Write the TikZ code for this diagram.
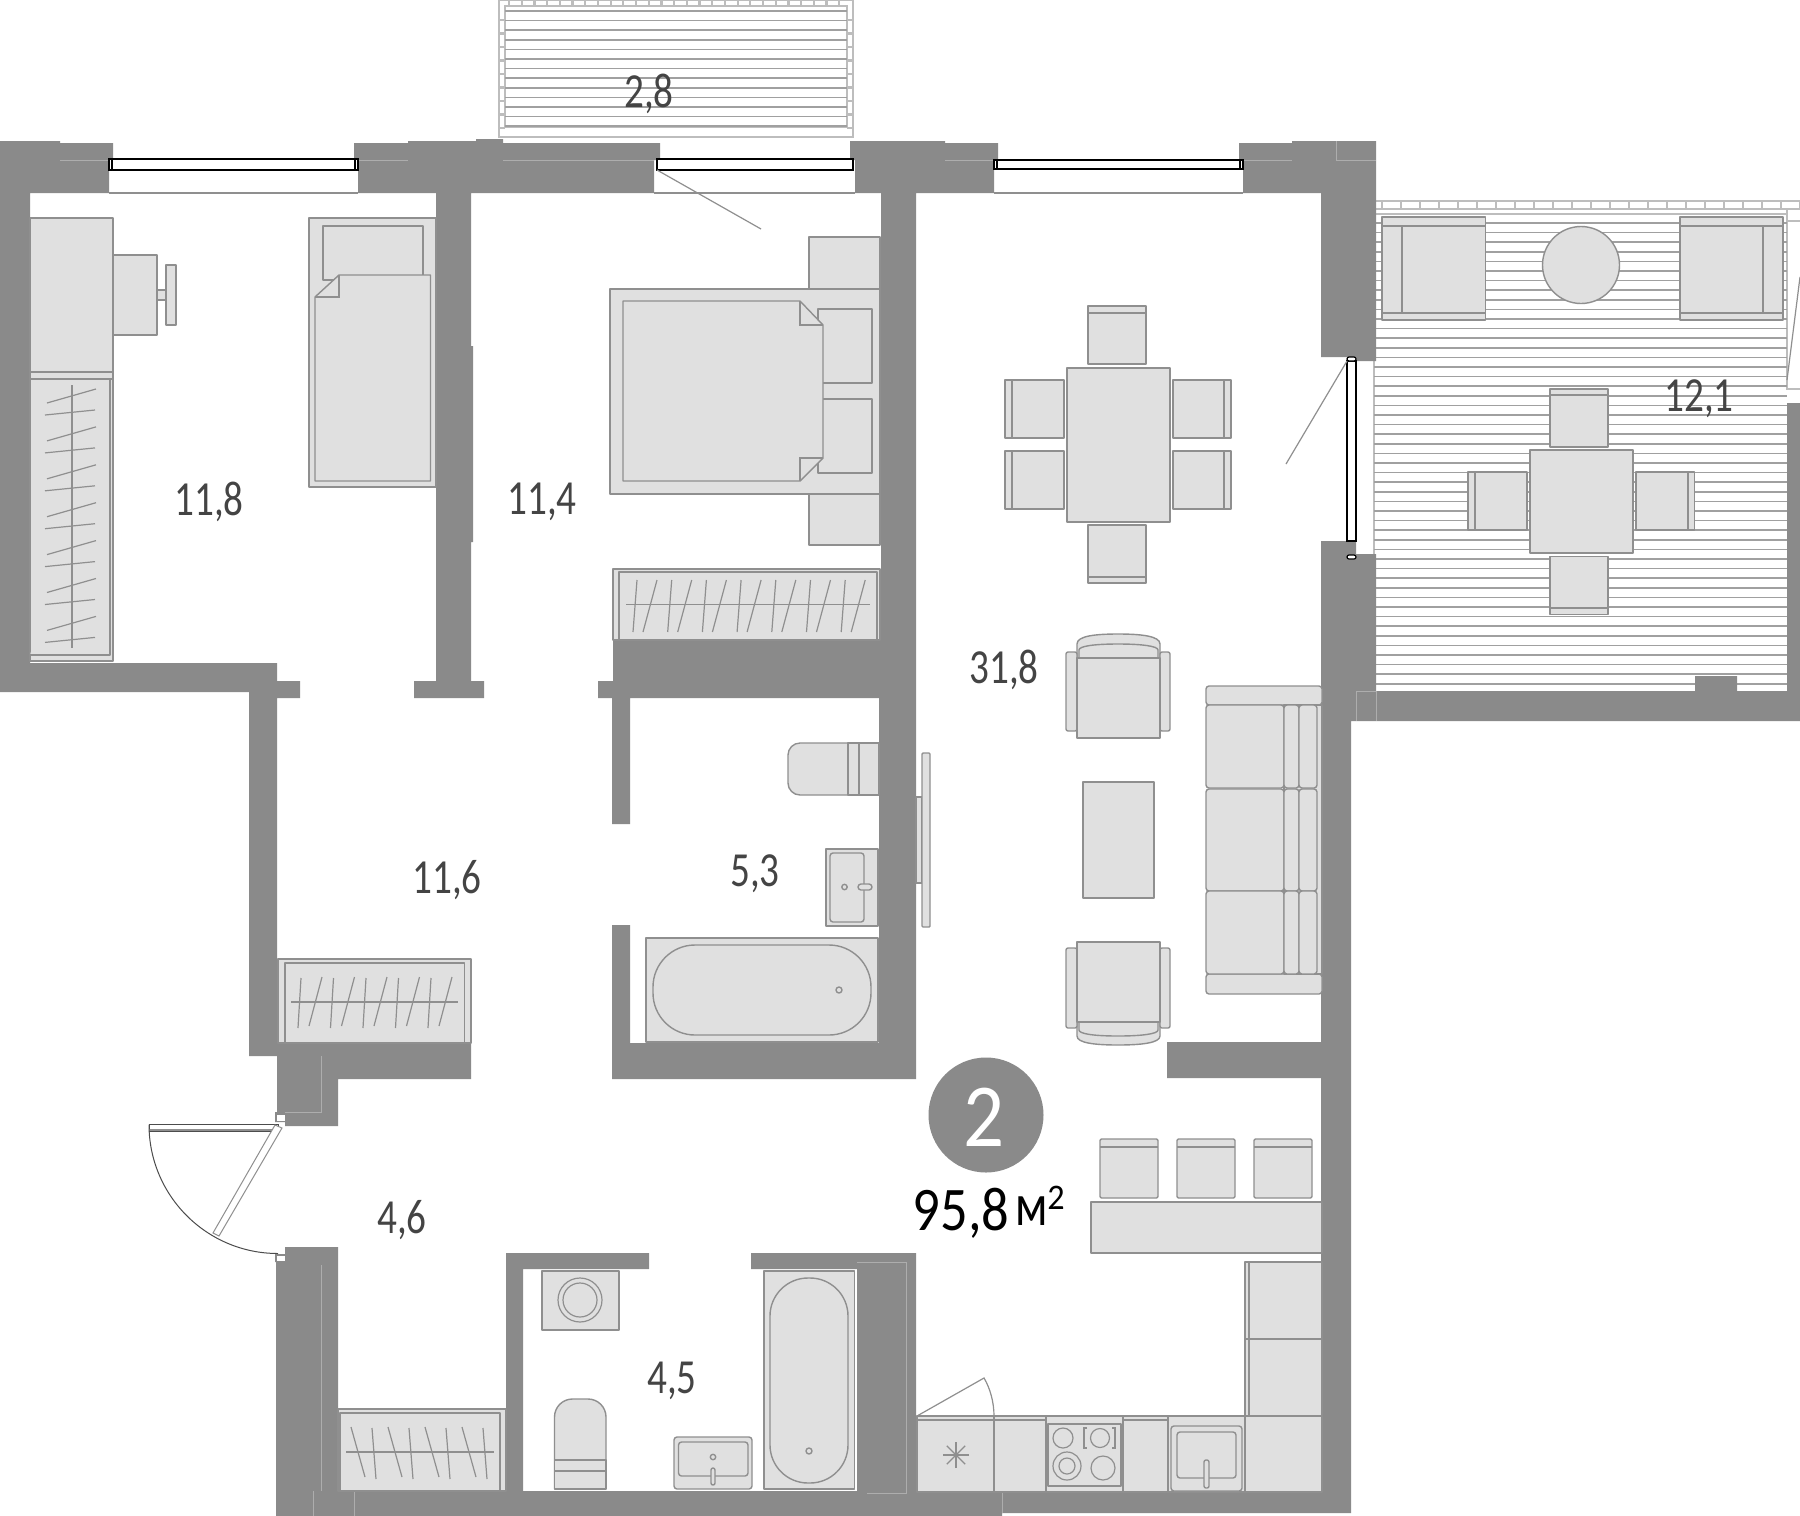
\documentclass[tikz,border=0pt]{standalone}
\usepackage{fontspec}
\setmainfont{Carlito}
\usepackage{xcolor}
\definecolor{wallgray}{HTML}{8A8A8A}
\definecolor{furngray}{HTML}{E0E0E0}
\definecolor{linegray}{HTML}{8F8F8F}
\definecolor{railgray}{HTML}{BDBDBD}
\definecolor{areagray}{HTML}{444444}
\tikzset{
  wall/.style={fill=wallgray},
  wallseam/.style={draw=white!30!wallgray,line width=.35pt},
  furn/.style={draw=linegray,fill=furngray,line width=.7pt,line join=round},
  thinline/.style={draw=linegray,line width=.6pt},
  plankdark/.style={draw=linegray!85!white,line width=.75pt},
  rail/.style={draw=railgray,line width=.6pt},
  railtick/.style={draw=railgray,line width=1.1pt},
  pane/.style={draw=black,fill=white,line width=.6pt},
  area/.style={text=areagray,font=\fontsize{24.5}{24.5}\selectfont,inner sep=0pt}
}
\newcommand{\areatxt}[1]{\scalebox{.8}[1]{#1}}
\begin{document}
\begin{tikzpicture}[x=.5pt,y=-.5pt]
      \useasboundingbox (0,0) rectangle (1800,1516);
      \fill[white] (0,0) rectangle (1800,1516);

      \draw[rail] (499,0) rectangle (853,137);
      \draw[rail] (505,6) rectangle (847,127);
      \foreach \xx in {509,521.7,...,847}
        \draw[railtick] (\xx,0) -- (\xx,6);
      \foreach \yy in {20,33.5,...,137} {
        \draw[railtick] (499,\yy) -- (505,\yy);
        \draw[railtick] (847,\yy) -- (853,\yy);
      }
      \foreach \yy in {11,20.6,...,128}
        \draw[plankdark] (505,\yy) -- (847,\yy);

      \draw[rail] (1376,201) -- (1800,201);
      \draw[rail] (1376,209) -- (1800,209);
      \foreach \xx in {1382,1401,...,1800}
        \draw[railtick] (\xx,201) -- (\xx,209);
      \draw[rail] (1374,214) -- (1787,214);
      \draw[rail] (1374,214) -- (1374,580);
      \draw[rail] (1787,209) -- (1787,389) -- (1800,389);
      \draw[rail] (1787,221) -- (1800,221);
      \draw[thinline] (1800,277) -- (1787,380);
      \foreach \yy in {223,232.6,...,688}
        \draw[plankdark] (1374,\yy) -- (1787,\yy);

      \fill[wall] (0,141) -- (60,141) -- (60,143) -- (113,143) -- (113,160)
        -- (109,160) -- (109,193) -- (30,193) -- (30,663) -- (277,663)
        -- (277,681) -- (300,681) -- (300,698) -- (277,698) -- (277,1040)
        -- (317,1040) -- (317,1043) -- (471,1043) -- (471,1079) -- (338,1079)
        -- (338,1126) -- (285,1126) -- (285,1122) -- (275,1122) -- (275,1112)
        -- (277,1112) -- (277,1056) -- (249,1056) -- (249,692) -- (0,692)
        -- cycle;
      \fill[wall] (354,143) -- (408,143) -- (408,141) -- (476,141) -- (476,139)
        -- (503,139) -- (503,143) -- (660,143) -- (660,160) -- (654,160)
        -- (654,193) -- (471,193) -- (471,346) -- (473,346) -- (473,542)
        -- (471,542) -- (471,681) -- (484,681) -- (484,698) -- (414,698)
        -- (414,681) -- (436,681) -- (436,193) -- (358,193) -- (358,160)
        -- (354,160) -- cycle;
      \fill[wall] (850,141) -- (945,141) -- (945,143) -- (998,143) -- (998,160)
        -- (994,160) -- (994,193) -- (916,193) -- (916,1079) -- (612,1079)
        -- (612,925) -- (630,925) -- (630,1043) -- (879,1043) -- (879,698)
        -- (630,698) -- (630,824) -- (612,824) -- (612,698) -- (598,698)
        -- (598,681) -- (613,681) -- (613,640) -- (881,640) -- (881,193)
        -- (855,193) -- (855,160) -- (850,160) -- cycle;
      \fill[wall] (1239,143) -- (1292,143) -- (1292,141) -- (1376,141)
        -- (1376,361) -- (1356,361) -- (1356,357) -- (1321,357) -- (1321,193)
        -- (1243,193) -- (1243,160) -- (1239,160) -- cycle;
      \fill[wall] (1321,541) -- (1356,541) -- (1356,554) -- (1376,554)
        -- (1376,691) -- (1695,691) -- (1695,676) -- (1737,676) -- (1737,691)
        -- (1787,691) -- (1787,403) -- (1800,403) -- (1800,721) -- (1351,721)
        -- (1351,1513) -- (1002,1513) -- (1002,1516) -- (276,1516)
        -- (276,1262) -- (275,1262) -- (275,1254) -- (285,1254) -- (285,1247)
        -- (338,1247) -- (338,1491)
        -- (506,1491) -- (506,1253) -- (649,1253) -- (649,1269) -- (523,1269)
        -- (523,1491) -- (857,1491) -- (857,1269) -- (751,1269) -- (751,1253)
        -- (916,1253) -- (916,1491) -- (1321,1491) -- (1321,1078) -- (1167,1078)
        -- (1167,1042) -- (1321,1042) -- cycle;

      \draw[wallseam] (60,160) -- (109,160);
      \draw[wallseam] (358,160) -- (408,160);
      \draw[wallseam] (503,160) -- (654,160);
      \draw[wallseam] (945,160) -- (994,160);
      \draw[wallseam] (1243,160) -- (1292,160);
      \draw[wallseam] (1336,141) -- (1336,160) -- (1376,160);
      \draw[wallseam] (1356,691) -- (1356,721);
      \draw[wallseam] (1356,691) -- (1376,691) -- (1376,721);
      \draw[wallseam] (321,1056) -- (321,1112) -- (285,1112);
      \draw[wallseam] (321,1265) -- (321,1491);
      \draw[wallseam] (313,1491) -- (313,1516);
      \draw[wallseam] (354,1491) -- (354,1516);
      \draw[wallseam] (857,1262) -- (906,1262) -- (906,1493) -- (867,1493);
      \draw[wallseam] (1002,1493) -- (1002,1513);

      \draw[thinline] (109,193) -- (358,193);
      \draw[thinline] (654,193) -- (855,193);
      \draw[thinline] (994,193) -- (1243,193);
      \draw[pane] (109,159) rectangle (358,170);
      \draw[pane] (112,159) -- (112,170);
      \draw[pane] (355,159) -- (355,170);
      \draw[pane] (657,159) rectangle (853,170);
      \draw[pane] (994,160) rectangle (1243,169);
      \draw[pane] (997,160) -- (997,169);
      \draw[pane] (1240,160) -- (1240,169);
      \draw[pane] (1347,361) rectangle (1356,541);
      \draw[pane,rounded corners=1pt] (1347,357) rectangle (1356,361);
      \draw[pane,rounded corners=1pt] (1347,555) rectangle (1356,559);
      \draw[thinline] (657,170) -- (761,229);
      \draw[thinline] (1347,361) -- (1286,464);

      \draw[furn] (30,218) rectangle (113,372);
      \draw[furn] (30,372) rectangle (113,379);
      \draw[furn] (113,255) rectangle (157,335);
      \draw[furn] (157,290) rectangle (166,300);
      \draw[furn] (166,265) rectangle (176,325);
      \draw[furn] (30,379) rectangle (113,661);
      \draw[furn] (30,655) -- (110,655) -- (110,379);
      \draw[thinline] (72,385) -- (72,648);
      \foreach \yy in {0,37.9,...,230} {
        \draw[thinline] (47,403+\yy) -- (96,389+\yy);
        \draw[thinline] (45,415+\yy) -- (95,410+\yy);
      }

      \draw[furn] (309,218) rectangle (436,487);
      \draw[furn] (323,226) rectangle (423,280);
      \draw[furn] (339,275) -- (430.5,275) -- (430.5,481) -- (315,481)
        -- (315,297) -- cycle;
      \draw[thinline] (315,297) -- (339,297) -- (339,275);

      \draw[furn] (809,237) rectangle (880,289);
      \draw[furn] (809,494) rectangle (880,545);
      \draw[furn] (610,289) rectangle (880,494);
      \draw[furn] (818,309) rectangle (872,383);
      \draw[furn] (818,399) rectangle (872,473);
      \draw[furn] (623,301) -- (800,301) -- (823,325) -- (823,458) -- (800,481)
        -- (623,481) -- cycle;
      \draw[thinline] (800,301) -- (800,325) -- (823,325);
      \draw[thinline] (823,458) -- (800,458) -- (800,481);

      \draw[furn] (613,569) rectangle (880,640);
      \draw[furn] (619,572) rectangle (877,640);
      \draw[thinline] (626,604.5) -- (870,604.5);
      \foreach \xx in {0,34.7,...,210} {
        \draw[thinline] (633+\xx,632) -- (637+\xx,580);
        \draw[thinline] (643+\xx,632) -- (657+\xx,580);
      }

      \draw[furn] (278,959) rectangle (471,1043);
      \draw[furn] (285,963) rectangle (464.6,1043);
      \draw[thinline] (291,1002) -- (458,1002);
      \foreach \xx in {0,32.5,...,131} {
        \draw[thinline] (298+\xx,1028) -- (301+\xx,978);
        \draw[thinline] (309+\xx,1026) -- (322+\xx,977);
      }

      \draw[furn,rounded corners=6pt] (800,743) -- (879,743) -- (879,795)
        -- (788,795) -- (788,743) -- (830,743);
      \fill[furngray] (840,744) rectangle (878.5,794);
      \draw[furn] (848,743) rectangle (879,795);
      \draw[thinline] (859,743) -- (859,795);
      \draw[furn] (826,849) rectangle (878,926);
      \draw[furn,rounded corners=1.5pt] (830,853) rectangle (864,922);
      \draw[furn] (844.5,887) circle[radius=2.7];
      \draw[furn,rounded corners=1.5pt] (858,884) rectangle (872,890);
      \draw[furn] (646,938) rectangle (878,1042);
      \draw[furn,rounded corners=21pt] (653,945) rectangle (871,1035);
      \draw[furn] (839,990) circle[radius=3];
      \draw[furn] (916,797) rectangle (922,883);
      \draw[furn,rounded corners=.5pt] (922,753) rectangle (930,927);

      \draw[furn] (1067,368) rectangle (1170,522);
      \draw[furn] (1088,306) rectangle (1146,364);
      \draw[thinline] (1088,313) -- (1146,313);
      \draw[furn] (1088,525) rectangle (1146,583);
      \draw[thinline] (1088,577) -- (1146,577);
      \draw[furn] (1005,380) rectangle (1064,438);
      \draw[thinline] (1012,380) -- (1012,438);
      \draw[furn] (1005,451) rectangle (1064,509);
      \draw[thinline] (1012,451) -- (1012,509);
      \draw[furn] (1173,380) rectangle (1231,438);
      \draw[thinline] (1224,380) -- (1224,438);
      \draw[furn] (1173,451) rectangle (1231,509);
      \draw[thinline] (1224,451) -- (1224,509);

      \draw[furn] (1077,658) -- (1077,644) .. controls (1077,636) and (1095,634)
        .. (1118,634) .. controls (1141,634) and (1160,636) .. (1160,644)
        -- (1160,658) -- cycle;
      \draw[furn] (1079,658) -- (1079,650) .. controls (1079,646) and (1095,644)
        .. (1118,644) .. controls (1141,644) and (1158,646) .. (1158,650)
        -- (1158,658);
      \draw[furn,rounded corners=1pt] (1066,652) rectangle (1077,731);
      \draw[furn,rounded corners=1pt] (1160,652) rectangle (1170,731);
      \draw[furn] (1077,658) rectangle (1160,738);
      \draw[furn] (1083,782) rectangle (1154,898);
      \draw[furn] (1077,1022) -- (1077,1036) .. controls (1077,1043) and (1095,1045)
        .. (1118,1045) .. controls (1141,1045) and (1160,1043) .. (1160,1036)
        -- (1160,1022) -- cycle;
      \draw[furn] (1079,1022) -- (1079,1030) .. controls (1079,1034) and (1095,1036)
        .. (1118,1036) .. controls (1141,1036) and (1158,1034) .. (1158,1030)
        -- (1158,1022);
      \draw[furn,rounded corners=1pt] (1066,948) rectangle (1077,1028);
      \draw[furn,rounded corners=1pt] (1160,948) rectangle (1170,1028);
      \draw[furn] (1077,942) rectangle (1160,1022);

      \draw[furn,rounded corners=1.5pt] (1206,686) rectangle (1322,705);
      \draw[furn,rounded corners=1.5pt] (1206,974) rectangle (1322,994);
      \draw[furn] (1284,705) rectangle (1322,974);
      \foreach \ya/\yb in {705/788,789/891,891/974} {
        \draw[furn,rounded corners=1.5pt] (1206,\ya) rectangle (1284,\yb);
        \draw[furn,rounded corners=1.5pt] (1284,\ya) rectangle (1299,\yb);
        \draw[furn,rounded corners=1.5pt] (1299,\ya) rectangle (1317,\yb);
      }

      \draw[furn] (1382,217) rectangle (1485.5,320);
      \draw[thinline] (1402,226) -- (1402,313);
      \draw[thinline] (1382,226) -- (1485.5,226);
      \draw[thinline] (1382,313) -- (1485.5,313);
      \draw[furn] (1680,217) rectangle (1783,320);
      \draw[thinline] (1763,226) -- (1763,313);
      \draw[thinline] (1680,226) -- (1783,226);
      \draw[thinline] (1680,313) -- (1783,313);
      \draw[furn] (1581,265) circle[radius=38.5];
      \draw[furn] (1530,450) rectangle (1633,553);
      \draw[furn] (1550,389) rectangle (1608,447);
      \draw[thinline] (1550,395) -- (1608,395);
      \draw[furn] (1550,556.5) rectangle (1608,614.5);
      \draw[thinline] (1550,608) -- (1608,608);
      \draw[furn] (1468,472) rectangle (1527,530);
      \draw[thinline] (1475,472) -- (1475,530);
      \draw[furn] (1636,472) rectangle (1694.5,530);
      \draw[thinline] (1688,472) -- (1688,530);

      \foreach \xx in {1100,1177,1254} {
        \draw[furn,rounded corners=.7pt] (\xx,1139) rectangle (\xx+58,1198);
        \draw[thinline] (\xx,1147) -- (\xx+58,1147);
      }
      \draw[furn] (1091,1202) rectangle (1322,1253);
      \draw[furn] (1245,1262) rectangle (1322,1339);
      \draw[furn] (1245,1339) rectangle (1322,1416);
      \draw[thinline] (1249,1262) -- (1249,1416);
      \draw[furn] (917,1416) rectangle (994,1492);
      \draw[furn] (994,1416) rectangle (1046,1492);
      \draw[furn] (1046,1416) rectangle (1123,1492);
      \draw[furn] (1123,1416) rectangle (1168,1492);
      \draw[furn] (1168,1416) rectangle (1245,1492);
      \draw[furn] (1245,1416) rectangle (1322,1492);
      \draw[thinline] (917,1420) -- (1046,1420);
      \draw[thinline] (1123,1420) -- (1168,1420);
      \draw[thinline] (917,1416) -- (984,1378) .. controls (990,1388) and (994,1402)
        .. (994,1416);
      \foreach \ang in {0,45,...,135}
        \draw[thinline] (956,1455) ++(\ang:13) -- ++(\ang+180:26);
      \draw[furn] (1048,1424) rectangle (1121,1486);
      \draw[thinline] (1063,1438) circle[radius=10];
      \draw[thinline] (1100,1438) circle[radius=9.5];
      \draw[thinline] (1087,1428) -- (1084,1428) -- (1084,1448) -- (1087,1448);
      \draw[thinline] (1112,1428) -- (1115,1428) -- (1115,1448) -- (1112,1448);
      \draw[thinline] (1067,1466) circle[radius=14];
      \draw[thinline] (1067,1466) circle[radius=8];
      \draw[thinline] (1103,1468) circle[radius=12];
      \draw[furn,rounded corners=1.5pt] (1171,1426) rectangle (1242,1491);
      \draw[furn,rounded corners=1.5pt] (1177,1432) rectangle (1236,1478);
      \draw[furn,rounded corners=1pt] (1204,1460) rectangle (1209,1488);

      \draw[furn] (542,1271) rectangle (619,1330);
      \draw[thinline] (580,1300) circle[radius=22];
      \draw[thinline] (580,1300) circle[radius=17];
      \draw[furn,rounded corners=9pt] (554.5,1489) -- (554.5,1399) -- (606,1399)
        -- (606,1489);
      \draw[furn] (554.5,1471) rectangle (606,1489);
      \draw[furn] (554.5,1460) rectangle (606,1471);
      \draw[furn,rounded corners=1.5pt] (674,1437) rectangle (752,1489);
      \draw[furn,rounded corners=1.5pt] (678.5,1442) rectangle (748,1476);
      \draw[furn] (713,1457) circle[radius=2.7];
      \draw[furn,rounded corners=1pt] (711,1468) rectangle (715,1485);
      \draw[furn] (764,1271) rectangle (854.5,1489);
      \draw[furn,rounded corners=19pt] (770,1278) rectangle (848,1483);
      \draw[furn] (809,1451) circle[radius=3];
      \draw[furn] (338,1409) rectangle (506,1491);
      \draw[furn] (340,1413) rectangle (500,1491);
      \draw[thinline] (346,1452) -- (494,1452);
      \foreach \xx in {0,37,...,112} {
        \draw[thinline] (351+\xx,1427) -- (365+\xx,1477);
        \draw[thinline] (372+\xx,1428) -- (376+\xx,1479);
      }

      \draw[fill=white,draw=black!70,line width=.5pt] (149,1124.5) rectangle (278,1131);
      \draw[draw=linegray,line width=1pt] (149,1129.5) -- (278,1129.5);
      \draw[fill=white,draw=linegray,line width=.5pt] (275,1125) -- (282,1128)
        -- (219,1236) -- (213,1233) -- cycle;
      \draw[draw=black!70,line width=.5pt] (149,1124.5) arc[start angle=180,end angle=90,radius=129];
      \fill[white] (277,1115) rectangle (285,1121);
      \fill[white] (277,1256) rectangle (285,1261);

      \node[area] (balconyarea) at (649,94) {\areatxt{2,8}};
      \node[area] (roomA) at (209,502) {\areatxt{11,8}};
      \node[area] (roomB) at (542,502) {\areatxt{11,4}};
      \node[area] (hallarea) at (447,880) {\areatxt{11,6}};
      \node[area] (bathA) at (755,874) {\areatxt{5,3}};
      \node[area] (livingarea) at (1004,670) {\areatxt{31,8}};
      \node[area] (terracearea) at (1699,399) {\areatxt{12,1}};
      \node[area] (entryarea) at (402,1220) {\areatxt{4,6}};
      \node[area] (bathB) at (672,1381) {\areatxt{4,5}};

      \fill[wallgray] (986,1115) circle[radius=57.5];
      \node[text=white,font=\fontsize{45}{45}\selectfont,inner sep=0pt] (roomcount) at (984,1117)
        {\scalebox{.9}[1]{2}};
      \node[text=black,font=\fontsize{31}{31}\selectfont,inner sep=0pt] (totalarea) at (961,1213)
        {\scalebox{.88}[1]{95,8}};
      \node[text=black,font=\fontsize{30}{30}\selectfont,inner sep=0pt] (totalunit) at (1032,1211)
        {\scalebox{.8}[1]{м}};
      \node[text=black,font=\fontsize{18}{18}\selectfont,inner sep=0pt] (totalpower) at (1056,1198)
        {\scalebox{.95}[1]{2}};
    \end{tikzpicture}
\end{document}
